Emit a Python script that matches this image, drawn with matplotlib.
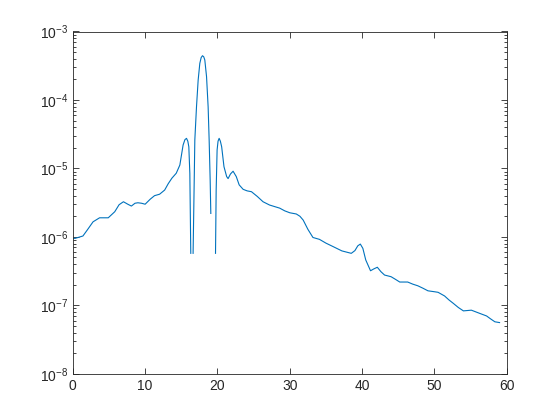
import numpy as np
import matplotlib
matplotlib.use('Agg')
import matplotlib.pyplot as plt
from matplotlib.ticker import LogLocator, NullFormatter, FixedLocator

LINE_COLOR = '#0072BD'
AX_COLOR = '#262626'

# values; None marks where the curve breaks (non-positive values)
x_vals = [0.0, 0.3, 1.4, 2.0, 2.8, 3.7, 4.9, 5.8, 6.4, 7.0, 7.6, 8.1, 8.6, 9.0, 9.5,
          10.0, 10.7, 11.3, 12.0, 12.7, 13.2, 13.7, 14.3, 14.8, 15.25, 15.5, 15.72,
          15.9, 16.04, 16.18, 16.31, None,
          16.63, 16.73, 16.87, 17.1, 17.33, 17.56, 17.75, 17.93, 18.1, 18.25, 18.49,
          18.71, 18.85, 18.99, 19.08, None,
          19.73, 19.82, 19.95, 20.08, 20.23, 20.4, 20.58, 20.9, 21.27, 21.47, 21.8,
          22.16, 22.6, 23.0, 23.55, 24.1, 24.7, 25.5, 26.3, 27.2, 28.0, 28.6, 29.3,
          30.0, 30.9, 31.4, 31.85, 32.5, 33.2, 34.1, 35.0, 36.0, 37.2, 38.5, 39.0,
          39.4, 39.75, 40.1, 40.5, 41.16, 41.6, 42.1, 42.6, 43.1, 44.0, 44.6, 45.2,
          46.3, 47.0, 47.7, 48.4, 49.1, 50.0, 50.5, 51.4, 52.0, 52.6, 53.3, 54.0,
          55.1, 56.3, 57.2, 57.8, 58.35, 59.0]
y_vals = [9.6e-7, 9.5e-7, 1.03e-6, 1.26e-6, 1.66e-6, 1.9e-6, 1.9e-6, 2.33e-6, 2.95e-6,
          3.26e-6, 3.0e-6, 2.82e-6, 3.1e-6, 3.15e-6, 3.1e-6,
          3.0e-6, 3.55e-6, 4.0e-6, 4.2e-6, 4.83e-6, 6.0e-6, 7.2e-6, 8.5e-6, 1.12e-5,
          2.2e-5, 2.63e-5, 2.75e-5,
          2.5e-5, 2.07e-5, 8.5e-6, 5.75e-7, None,
          5.75e-7, 2.75e-6, 2.6e-5, 7.9e-5, 1.95e-4, 3.43e-4, 4.17e-4, 4.43e-4, 4.27e-4,
          3.84e-4, 2.19e-4,
          7.9e-5, 2.6e-5, 6.8e-6, 2.2e-6, None,
          5.75e-7, 4.84e-6, 1.86e-5, 2.5e-5, 2.75e-5, 2.5e-5, 2.07e-5, 1.06e-5, 7.6e-6,
          7.1e-6, 8.3e-6,
          9.1e-6, 7.6e-6, 5.75e-6, 4.95e-6, 4.7e-6, 4.57e-6, 3.9e-6, 3.26e-6, 2.92e-6,
          2.75e-6, 2.63e-6, 2.4e-6,
          2.25e-6, 2.16e-6, 2.0e-6, 1.76e-6, 1.29e-6, 9.8e-7, 9.2e-7, 8.1e-7, 7.2e-7,
          6.24e-7, 5.75e-7, 6.3e-7,
          7.4e-7, 7.85e-7, 6.8e-7, 4.6e-7, 3.2e-7, 3.4e-7, 3.6e-7, 3.1e-7, 2.77e-7,
          2.62e-7, 2.4e-7, 2.19e-7,
          2.19e-7, 2.04e-7, 1.93e-7, 1.78e-7, 1.63e-7, 1.58e-7, 1.55e-7, 1.37e-7, 1.2e-7,
          1.07e-7, 9.3e-8, 8.3e-8,
          8.5e-8, 7.6e-8, 7.0e-8, 6.3e-8, 5.75e-8, 5.6e-8]

x_ticks = [0, 10, 20, 30, 40, 50, 60]

plt.rcParams['font.family'] = ['Liberation Sans', 'DejaVu Sans']
plt.rcParams['mathtext.default'] = 'regular'

x = np.array([np.nan if v is None else v for v in x_vals], dtype=float)
y = np.array([np.nan if v is None else v for v in y_vals], dtype=float)

fig = plt.figure(figsize=(5.6, 4.2), dpi=100)
ax = fig.add_axes([0.13, 0.11, 0.775, 0.815])
ax.semilogy(x, y, color=LINE_COLOR, linewidth=0.8)

ax.set_xlim(0, 60)
ax.set_ylim(1e-8, 1e-3)
ax.xaxis.set_major_locator(FixedLocator(x_ticks))
ax.yaxis.set_major_locator(LogLocator(base=10, numticks=10))
ax.yaxis.set_minor_locator(LogLocator(base=10, subs=np.arange(2, 10), numticks=10))
ax.yaxis.set_minor_formatter(NullFormatter())

ax.tick_params(which='both', direction='in', top=True, right=True,
               colors=AX_COLOR, labelsize=10, width=0.6)
ax.tick_params(which='major', length=4.5)
ax.tick_params(which='minor', length=2.5)
for s in ax.spines.values():
    s.set_color(AX_COLOR)
    s.set_linewidth(0.6)

fig.savefig('out.png', dpi=100, facecolor='white')
